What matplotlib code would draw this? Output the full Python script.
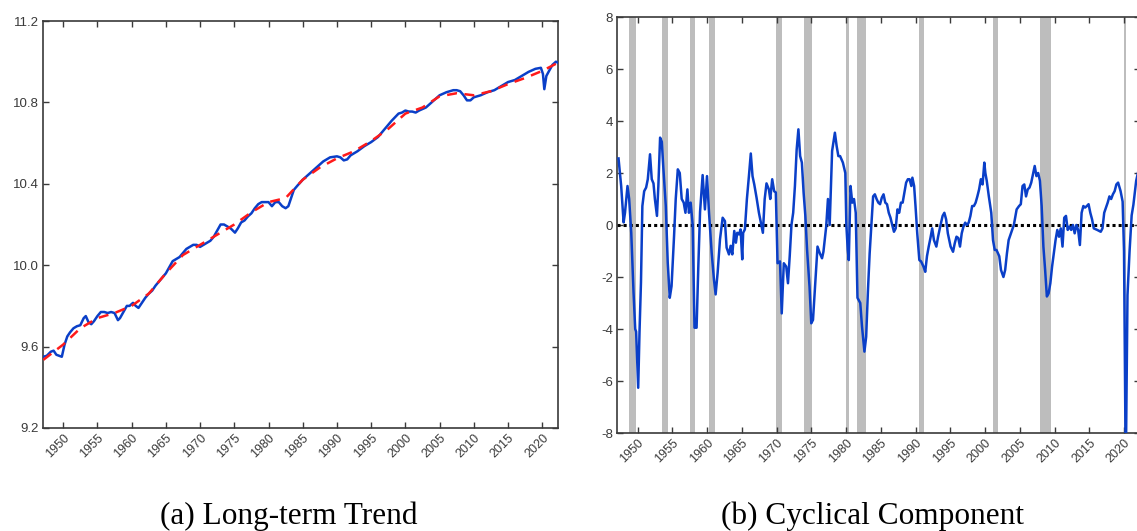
import matplotlib
matplotlib.use("Agg")
import matplotlib.pyplot as plt
import numpy as np

# ---------------- data ----------------
# Left panel: log real GDP (blue) and long-term trend (red dashed)
gdp_years = [1947.1, 1947.6, 1948.2, 1948.6, 1949.0, 1949.4, 1949.8, 1950.2, 1950.6, 1951.0,
             1951.5, 1952.0, 1952.5, 1953.0, 1953.3, 1953.7, 1954.1, 1954.5, 1955.0, 1955.5,
             1956.0, 1956.5, 1957.0, 1957.5, 1958.0, 1958.3, 1958.8, 1959.3, 1959.7, 1960.2,
             1960.6, 1961.0, 1961.5, 1962.0, 1962.5, 1963.0, 1963.5, 1964.0, 1964.5, 1965.0,
             1965.5, 1966.0, 1966.5, 1967.0, 1967.5, 1968.0, 1968.5, 1969.0, 1969.5, 1970.0,
             1970.5, 1971.0, 1971.5, 1972.0, 1972.5, 1973.0, 1973.5, 1974.0, 1974.5, 1975.1,
             1975.5, 1976.0, 1976.5, 1977.0, 1977.5, 1978.0, 1978.5, 1979.0, 1979.5, 1980.0,
             1980.5, 1981.0, 1981.5, 1982.0, 1982.5, 1982.9, 1983.3, 1983.7, 1984.2, 1985.0,
             1986.0, 1987.0, 1988.0, 1989.0, 1990.0, 1990.5, 1991.0, 1991.5, 1992.0, 1993.0,
             1994.0, 1995.0, 1996.0, 1997.0, 1998.0, 1999.0, 1999.5, 2000.0, 2000.5, 2001.0,
             2001.5, 2002.0, 2003.0, 2004.0, 2005.0, 2006.0, 2006.5, 2007.0, 2007.5, 2008.0,
             2008.5, 2009.0, 2009.5, 2010.0, 2011.0, 2012.0, 2013.0, 2014.0, 2015.0, 2016.0,
             2017.0, 2018.0, 2019.0, 2019.8, 2020.1, 2020.3, 2020.6, 2021.0, 2021.5, 2022.0,
             2022.3]
log_gdp = [9.550, 9.555, 9.575, 9.580, 9.560, 9.555, 9.550, 9.610, 9.650, 9.670,
           9.690, 9.700, 9.705, 9.740, 9.750, 9.720, 9.710, 9.725, 9.750, 9.770,
           9.770, 9.765, 9.770, 9.765, 9.730, 9.740, 9.770, 9.800, 9.800, 9.815,
           9.800, 9.790, 9.815, 9.840, 9.860, 9.875, 9.900, 9.920, 9.940, 9.960,
           9.990, 10.020, 10.030, 10.040, 10.060, 10.080, 10.090, 10.100, 10.100, 10.090,
           10.100, 10.110, 10.120, 10.140, 10.170, 10.200, 10.200, 10.190, 10.180, 10.160,
           10.180, 10.210, 10.220, 10.240, 10.255, 10.280, 10.300, 10.310, 10.310, 10.310,
           10.290, 10.310, 10.310, 10.290, 10.280, 10.290, 10.330, 10.370, 10.390, 10.420,
           10.450, 10.480, 10.510, 10.530, 10.535, 10.530, 10.515, 10.520, 10.540, 10.560,
           10.585, 10.605, 10.630, 10.670, 10.710, 10.745, 10.750, 10.760, 10.755, 10.755,
           10.750, 10.760, 10.775, 10.805, 10.835, 10.850, 10.855, 10.860, 10.860, 10.855,
           10.835, 10.810, 10.810, 10.825, 10.835, 10.850, 10.860, 10.880, 10.900, 10.910,
           10.930, 10.950, 10.965, 10.970, 10.940, 10.865, 10.930, 10.955, 10.985, 11.000,
           10.995]

trend_years = [1947.1, 1950.0, 1952.5, 1955.0, 1957.5, 1960.0, 1962.5, 1965.0, 1967.5, 1970.0,
               1972.5, 1975.0, 1977.5, 1980.0, 1982.5, 1985.0, 1987.5, 1990.0, 1992.5, 1995.0,
               1997.5, 2000.0, 2002.5, 2005.0, 2007.5, 2010.0, 2012.5, 2015.0, 2017.5, 2020.0,
               2022.3]
trend = [9.535, 9.610, 9.690, 9.740, 9.765, 9.800, 9.860, 9.960, 10.050, 10.100,
         10.150, 10.200, 10.260, 10.310, 10.330, 10.420, 10.480, 10.525, 10.560, 10.610,
         10.670, 10.745, 10.775, 10.830, 10.845, 10.835, 10.855, 10.890, 10.920, 10.955,
         10.995]

# Right panel: cyclical component (percent)
cyc_years = [1947.27, 1947.65, 1948.0, 1948.2, 1948.56, 1948.8, 1949.1, 1949.43, 1949.67, 1949.8,
             1950.1, 1950.29, 1950.5, 1950.7, 1950.96, 1951.24, 1951.48, 1951.8, 1952.05, 1952.3,
             1952.5, 1952.8, 1953.0, 1953.25, 1953.5, 1953.7, 1954.07, 1954.35, 1954.64, 1954.9,
             1955.26, 1955.5, 1955.8, 1956.08, 1956.36, 1956.65, 1956.9, 1957.18, 1957.4, 1957.65,
             1957.94, 1958.2, 1958.5, 1958.75, 1959.0, 1959.37, 1959.7, 1960.0, 1960.29, 1960.67,
             1961.0, 1961.24, 1961.53, 1961.87, 1962.25, 1962.58, 1962.82, 1963.16, 1963.4, 1963.64,
             1963.92, 1964.16, 1964.35, 1964.6, 1964.83, 1965.07, 1965.2, 1965.45, 1965.74, 1966.03,
             1966.3, 1966.55, 1966.8, 1967.13, 1967.47, 1967.75, 1968.04, 1968.3, 1968.56, 1968.9,
             1969.1, 1969.38, 1969.66, 1969.9, 1970.15, 1970.5, 1970.75, 1971.05, 1971.4, 1971.65,
             1971.9, 1972.15, 1972.4, 1972.65, 1972.9, 1973.15, 1973.4, 1973.65, 1973.9, 1974.15,
             1974.4, 1974.75, 1975.0, 1975.25, 1975.55, 1975.9, 1976.25, 1976.55, 1976.75, 1977.15,
             1977.4, 1977.65, 1978.0, 1978.4, 1978.65, 1978.9, 1979.15, 1979.55, 1979.9, 1980.05,
             1980.25, 1980.4, 1980.65, 1980.9, 1981.15, 1981.4, 1981.65, 1982.05, 1982.3, 1982.65,
             1982.9, 1983.15, 1983.4, 1983.65, 1983.9, 1984.15, 1984.4, 1984.65, 1984.9, 1985.15,
             1985.4, 1985.65, 1985.9, 1986.15, 1986.4, 1986.65, 1986.9, 1987.15, 1987.4, 1987.65,
             1987.9, 1988.15, 1988.4, 1988.65, 1988.9, 1989.15, 1989.4, 1989.55, 1989.8, 1990.0,
             1990.25, 1990.55, 1990.8, 1991.15, 1991.4, 1991.65, 1991.9, 1992.15, 1992.4, 1992.65,
             1993.0, 1993.25, 1993.55, 1993.9, 1994.15, 1994.4, 1994.65, 1995.05, 1995.4, 1995.65,
             1995.9, 1996.15, 1996.4, 1996.65, 1996.9, 1997.15, 1997.4, 1997.65, 1997.9, 1998.15,
             1998.4, 1998.65, 1998.9, 1999.15, 1999.4, 1999.65, 1999.9, 2000.05, 2000.25, 2000.55,
             2000.9, 2001.15, 2001.4, 2001.65, 2002.05, 2002.3, 2002.65, 2002.9, 2003.15, 2003.4,
             2003.65, 2003.9, 2004.15, 2004.55, 2004.9, 2005.15, 2005.4, 2005.65, 2005.9, 2006.15,
             2006.4, 2006.65, 2006.9, 2007.15, 2007.4, 2007.65, 2007.9, 2008.15, 2008.4, 2008.65,
             2008.9, 2009.15, 2009.4, 2009.65, 2009.9, 2010.15, 2010.4, 2010.65, 2010.9, 2011.15,
             2011.4, 2011.65, 2011.9, 2012.15, 2012.4, 2012.65, 2012.9, 2013.15, 2013.4, 2013.65,
             2013.9, 2014.15, 2014.4, 2014.65, 2014.9, 2015.15, 2015.4, 2015.65, 2016.15, 2016.65,
             2016.9, 2017.15, 2017.65, 2017.9, 2018.15, 2018.4, 2018.65, 2018.9, 2019.15, 2019.5,
             2019.8, 2020.0, 2020.25, 2020.5, 2020.8, 2021.1, 2021.35, 2021.75, 2022.0]
cycle = [2.56, 1.5, 0.1, 0.47, 1.5, 1.0, -0.3, -2.6, -4.0, -4.1,
         -6.26, -4.1, -2.2, 0.73, 1.3, 1.44, 1.76, 2.72, 1.76, 1.6,
         1.0, 0.35, 1.5, 3.36, 3.2, 2.27, 0.73, -1.45, -2.8, -2.35,
         -0.42, 1.0, 2.14, 2.0, 1.0, 0.86, 0.47, 1.37, 0.47, 0.86,
         0.0, -3.95, -3.95, -1.6, 0.5, 1.92, 0.6, 1.88, 0.47, -1.06,
         -2.1, -2.67, -1.83, -0.55, 0.28, 0.15, -0.87, -1.13, -0.8, -1.13,
         -0.23, -0.68, -0.3, -0.36, -0.17, -1.32, -0.3, -0.17, 1.0, 1.88,
         2.75, 1.88, 1.56, 1.05, 0.47, 0.09, -0.3, 1.0, 1.6, 1.37,
         1.0, 1.76, 1.3, 1.25, -1.47, -1.4, -3.4, -1.47, -1.6, -2.24,
         -1.2, 0.0, 0.47, 1.5, 2.9, 3.68, 2.65, 2.4, 1.24, 0.35,
         -0.96, -2.37, -3.78, -3.65, -2.37, -0.83, -1.1, -1.28, -1.03, -0.06,
         1.0, 0.0, 2.85, 3.55, 3.04, 2.65, 2.65, 2.4, 2.0, 0.0,
         -0.96, -1.35, 1.5, 0.86, 1.0, 0.47, -2.8, -3.0, -3.9, -4.87,
         -4.3, -2.56, -1.1, 0.0, 1.1, 1.18, 1.0, 0.86, 0.8, 1.05,
         1.18, 0.86, 0.8, 0.47, 0.28, 0.0, -0.26, -0.13, 0.6, 0.47,
         0.86, 0.86, 1.24, 1.63, 1.76, 1.76, 1.5, 1.82, 1.5, 0.73,
         -0.32, -1.35, -1.4, -1.6, -1.8, -1.2, -0.83, -0.5, -0.13, -0.58,
         -0.83, -0.45, -0.06, 0.35, 0.47, 0.22, -0.32, -0.83, -1.03, -0.7,
         -0.45, -0.5, -0.83, -0.32, -0.06, 0.09, 0.0, 0.09, 0.35, 0.73,
         0.73, 0.86, 1.1, 1.37, 1.76, 1.56, 2.4, 2.0, 1.7, 1.1,
         0.47, -0.58, -0.96, -0.96, -1.2, -1.73, -2.0, -1.73, -1.1, -0.58,
         -0.38, -0.19, 0.0, 0.6, 0.73, 0.8, 1.5, 1.56, 1.1, 1.37,
         1.44, 1.63, 1.95, 2.27, 1.88, 2.0, 1.7, 0.73, -0.83, -1.73,
         -2.75, -2.63, -2.24, -1.6, -1.1, -0.58, -0.19, -0.45, -0.13, -0.83,
         0.28, 0.35, -0.19, -0.06, -0.19, 0.0, -0.32, 0.0, -0.19, -0.77,
         0.47, 0.73, 0.67, 0.73, 0.8, 0.47, 0.22, -0.13, -0.19, -0.26,
         -0.13, 0.47, 0.86, 1.1, 1.0, 1.18, 1.3, 1.56, 1.63, 1.31,
         0.9, -1.0, -9.5, -2.7, -1.0, 0.37, 0.78, 1.7, 2.0]

# NBER recession periods (start, end)
rec_start = [1948.83, 1953.5, 1957.6, 1960.3, 1969.9, 1973.9, 1980.0, 1981.55, 1990.55, 2001.15, 2007.9, 2020.0]
rec_end   = [1949.8, 1954.35, 1958.3, 1961.1, 1970.85, 1975.15, 1980.5, 1982.9, 1991.15, 2001.85, 2009.45, 2020.3]

tick_years = list(range(1950, 2021, 5))
left_yticks = [9.2, 9.6, 10.0, 10.4, 10.8, 11.2]
right_yticks = [-8, -6, -4, -2, 0, 2, 4, 6, 8]

# ---------------- figure ----------------
W, H = 1137, 531
fig = plt.figure(figsize=(W / 100, H / 100), dpi=100)
plt.rcParams['font.family'] = ['Liberation Sans', 'DejaVu Sans']

def px_axes(x0, y0, x1, y1):
    return fig.add_axes([x0 / W, 1 - y1 / H, (x1 - x0) / W, (y1 - y0) / H])

axL = px_axes(43, 21, 558, 428)
axR = px_axes(617, 17, 1140, 433)

blue = '#0a3fc8'
spine_c = '#3a3a3a'
lab_c = '#3a3a3a'

for ax in (axL, axR):
    for s in ax.spines.values():
        s.set_color(spine_c)
        s.set_linewidth(1.2)
    ax.tick_params(direction='in', length=4, width=1.0, color=spine_c,
                   top=True, right=True, labelcolor=lab_c, pad=3)
    ax.tick_params(axis='y', labelsize=9.5)
    ax.tick_params(axis='x', labelsize=9)
    ax.set_xticks(tick_years)
    ax.set_xticklabels([str(y) for y in tick_years], rotation=45,
                       ha='right', rotation_mode='anchor')
    ax.set_xlim(1947.05, 2022.3)

# Left panel
axL.plot(gdp_years, log_gdp, color=blue, lw=1.8, zorder=3)
axL.plot(trend_years, trend, color='#ff1a1a', lw=1.8, ls=(0, (4, 3)), zorder=4)
axL.set_ylim(9.2, 11.2)
axL.set_yticks(left_yticks)
axL.set_yticklabels([f'{v:.1f}' for v in left_yticks])

# Right panel
for s, e in zip(rec_start, rec_end):
    axR.axvspan(s, e, color='#bdbdbd', lw=0, zorder=1)
axR.axhline(0, color='black', lw=2.2, ls=(0, (1, 1)), zorder=2)
axR.plot(cyc_years, cycle, color=blue, lw=1.8, zorder=3)
axR.set_ylim(-8, 8)
axR.set_yticks(right_yticks)
axR.set_yticklabels([str(v) for v in right_yticks])

# Captions
fig.text(289 / W, 1 - 524 / H, '(a) Long-term Trend', ha='center', va='baseline',
         family='Liberation Serif', fontsize=22.5, color='black')
fig.text(873 / W, 1 - 524 / H, '(b) Cyclical Component', ha='center', va='baseline',
         family='Liberation Serif', fontsize=22.5, color='black')

fig.savefig('out.png', dpi=100)
